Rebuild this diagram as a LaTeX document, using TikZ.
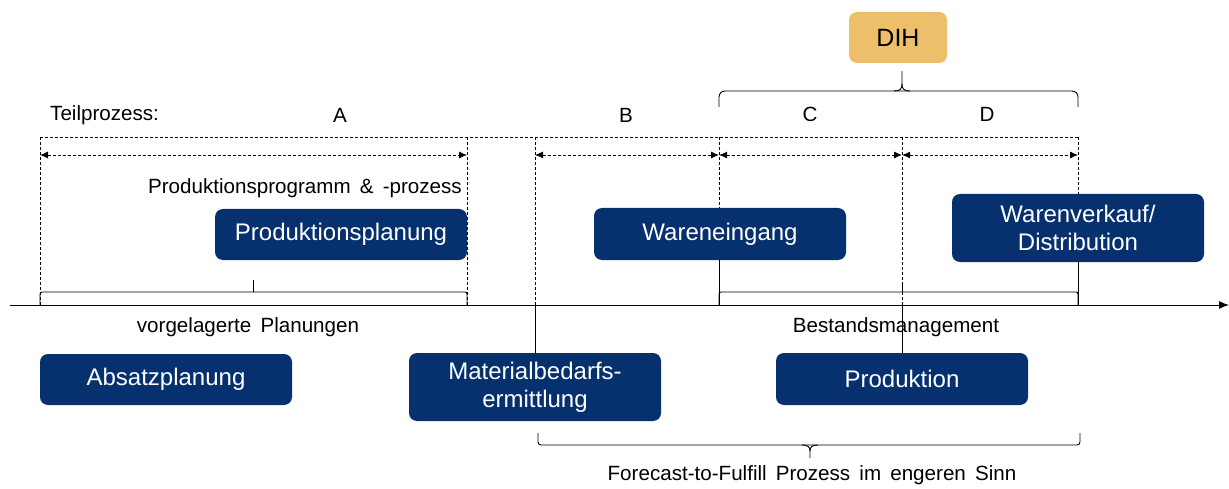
\documentclass[tikz,border=0pt]{standalone}
\usepackage{fontspec}
\setmainfont{Liberation Sans}
\usetikzlibrary{arrows.meta,calc}
\definecolor{navy}{RGB}{6,48,110}
\definecolor{gold}{RGB}{237,191,107}
\begin{document}
\begin{tikzpicture}[x=1pt,y=-1pt,
  bluebox/.style={fill=navy,rounded corners=8pt,text=white,align=center,
    minimum width=252pt,inner sep=0pt,
    font=\fontsize{24}{28}\selectfont},
  lbl/.style={inner sep=0pt,font=\fontsize{20.6}{24}\selectfont},
  guide/.style={line width=0.9pt,dash pattern=on 3pt off 2pt},
  span/.style={guide,{Latex[length=8pt,width=7pt]}-{Latex[length=8pt,width=7pt]}},
  solid line/.style={line width=0.9pt},
  bracket/.style={line width=0.9pt,rounded corners=2pt}]
\useasboundingbox (0,0) rectangle (1229,489);

% time axis
\coordinate (ax0) at (10,305);
\coordinate (ax1) at (1229,305);
\draw[line width=1pt,-{Latex[length=10pt,width=8pt]}] (ax0) -- (ax1);

% process boxes
\node[bluebox,minimum height=51pt] (pp) at (341,234.5) {Produktionsplanung};
\node[bluebox,minimum height=52pt] (we) at (720,234) {Wareneingang};
\node[bluebox,minimum height=68pt] (wv) at (1078,228) {Warenverkauf/\\Distribution};
\node[bluebox,minimum height=51pt] (ab) at (166,379.5) {Absatzplanung};
\node[bluebox,minimum height=68pt] (mb) at (535,387) {Materialbedarfs-\\ermittlung};
\node[bluebox,minimum height=52pt] (pr) at (902,379) {Produktion};
\node[fill=gold,rounded corners=8pt,minimum width=98pt,minimum height=51pt,
  inner sep=0pt,font=\fontsize{25}{30}\selectfont] (dih) at (898,37.5) {DIH};

% phase boundaries
\coordinate (t1) at (40,137);   \coordinate (b1) at (40,305);
\coordinate (t2) at (467,137);  \coordinate (b2) at (467,305);
\coordinate (t3) at (535,137);  \coordinate (b3) at (535,305);
\coordinate (t4) at (719,137);  \coordinate (b4) at (719,305);
\coordinate (t5) at (902,137);  \coordinate (b5) at (902,305);
\coordinate (t6) at (1078,137); \coordinate (b6) at (1078,305);

\draw[guide] (t1) -- (t6);
\draw[guide] (t1) -- (b1);
\draw[guide] (t2) -- (b2);
\draw[guide] (t3) -- (b3);
\draw[guide] (t4) -- (t4 |- we.north);
\draw[guide] (t5) -- (b5);
\draw[guide] (t6) -- (t6 |- wv.north);

\draw[solid line] (b3) -- (b3 |- mb.north);
\draw[solid line] (b4 |- we.south) -- (b4);
\draw[solid line] (b5) -- (b5 |- pr.north);
\draw[solid line] (b6 |- wv.south) -- (b6);

% phase spans
\draw[span] ($(t1)+(0,18)$) -- ($(t2)+(0,18)$);
\draw[span] ($(t3)+(0,18)$) -- ($(t4)+(0,18)$);
\draw[span] ($(t4)+(0,18)$) -- ($(t5)+(0,18)$);
\draw[span] ($(t5)+(0,18)$) -- ($(t6)+(0,18)$);

% phase labels
\node[lbl,anchor=west] (tp) at (50,115) {Teilprozess:};
\node[lbl] (la) at (340,115) {A};
\node[lbl] (lb) at (626,115) {B};
\node[lbl] (lc) at (810,114) {C};
\node[lbl] (ld) at (987,114) {D};
\node[lbl,anchor=east] (ppl) at (462,188) {Produktionsprogramm \,\&\, -prozess};

% brackets on the axis
\draw[bracket] (b1) -- (40,292) -- (467,292) -- (b2);
\draw[solid line] (253,292) -- (253,280);
\node[lbl] (vp) at (248,327) {vorgelagerte \,Planungen};

\draw[bracket] (b4) -- (719,292) -- (1078,292) -- (b6);
\draw[solid line] (902,292) -- (902,283);
\node[lbl] (bm) at (896,327) {Bestandsmanagement};

% DIH brace over C and D
\coordinate (dihtip) at ($(902,0 |- dih.south)+(0,8)$);
\draw[line width=0.9pt,rounded corners=6pt] (719,107) -- (719,91) -- (1078,91) -- (1078,107);
\draw[line width=0.9pt] (894,91) .. controls (900,91) and (902,89) .. (902,84) -- (dihtip);
\draw[line width=0.9pt] (910,91) .. controls (904,91) and (902,89) .. (902,84);

% forecast-to-fulfill brace
\draw[line width=0.9pt,rounded corners=3pt] (538,433) -- (538,445) -- (1080,445) -- (1080,433);
\draw[line width=0.9pt] (802,445) .. controls (808,445) and (810,447) .. (810,451) -- (810,458);
\draw[line width=0.9pt] (818,445) .. controls (812,445) and (810,447) .. (810,451);
\node[lbl] (ff) at (812,475) {Forecast-to-Fulfill \,Prozess \,im \,engeren \,Sinn};
\end{tikzpicture}
\end{document}
